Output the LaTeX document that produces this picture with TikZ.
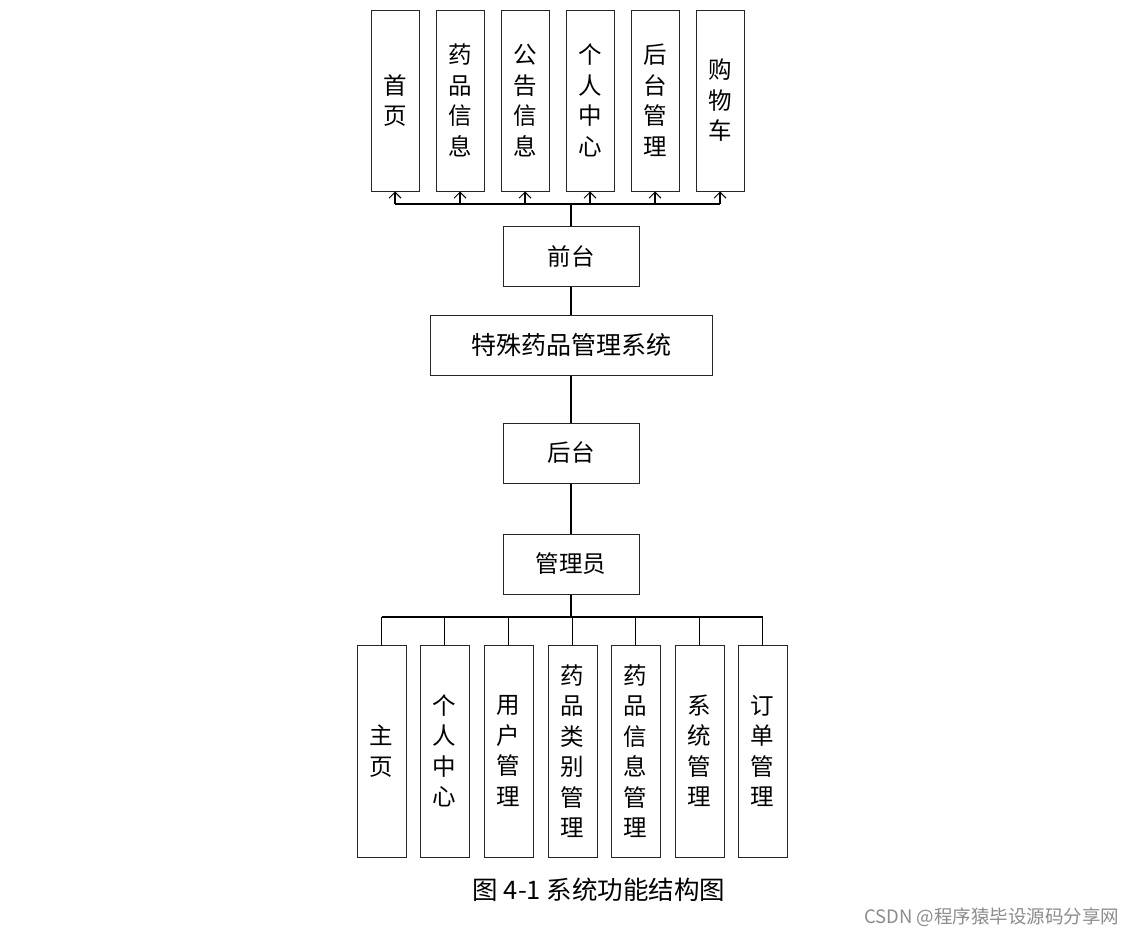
\documentclass[tikz,border=0pt]{standalone}
\usepackage{fontspec}
\setmainfont{Noto Sans CJK SC}
\usetikzlibrary{arrows.meta}
\tikzset{
  box/.style={draw=black!85, line width=1pt, inner sep=0pt, align=center,
    font=\fontsize{23.5}{30.5}\selectfont},
  tall/.style={box, minimum width=48pt, minimum height=181pt},
  low/.style={box, minimum width=49pt, minimum height=212pt},
  mid/.style={box, minimum width=136pt, minimum height=60pt},
  link/.style={line width=1.2pt, black},
  up/.style={link, -{Straight Barb[length=6pt,width=12pt,line width=1pt]}},
}
\begin{document}
\begin{tikzpicture}[x=1pt,y=-1pt]
\useasboundingbox[fill=white] (0,0) rectangle (1136,937);
% top boxes
\node[tall] (t1) at (395,100.5) {首\\页};
\node[tall] (t2) at (460,100.5) {药\\品\\信\\息};
\node[tall] (t3) at (525,100.5) {公\\告\\信\\息};
\node[tall] (t4) at (590,100.5) {个\\人\\中\\心};
\node[tall] (t5) at (655,100.5) {后\\台\\管\\理};
\node[tall] (t6) at (720,100.5) {购\\物\\车};
% middle column
\node[mid] (qt) at (571,256) {前台};
\node[box, minimum width=282pt, minimum height=60pt, font=\fontsize{25}{30}\selectfont] (sys) at (571,345) {特殊药品管理系统};
\node[mid] (ht) at (571,453) {后台};
\node[mid] (gly) at (571,564) {管理员};
% bottom boxes
\node[low] (b1) at (381.5,751) {主\\页};
\node[low] (b2) at (444.5,751) {个\\人\\中\\心};
\node[low] (b3) at (508.5,751) {用\\户\\管\\理};
\node[low] (b4) at (572.5,751) {药\\品\\类\\别\\管\\理};
\node[low] (b5) at (635.5,751) {药\\品\\信\\息\\管\\理};
\node[low] (b6) at (699.5,751) {系\\统\\管\\理};
\node[low] (b7) at (762.5,751) {订\\单\\管\\理};
% top connectors
\coordinate (tb) at (571,204);
\draw[link] (qt.north) -- (tb);
\draw[link] (t1.south |- tb) -- (t6.south |- tb);
\foreach \i in {1,...,6} \draw[up] (t\i.south |- tb) -- (t\i.south);
% spine
\draw[link] (qt.south) -- (sys.north);
\draw[link] (sys.south) -- (ht.north);
\draw[link] (ht.south) -- (gly.north);
% bottom connectors
\coordinate (bb) at (571,617);
\draw[link] (gly.south) -- (bb);
\draw[link] (b1.north |- bb) -- (b7.north |- bb);
\foreach \i in {1,...,7} \draw[link] (b\i.north |- bb) -- (b\i.north);
% caption and watermark
\node[font=\fontsize{25.5}{28}\selectfont] (cap) at (599,890) {图 4-1 系统功能结构图};
\node[font=\fontsize{18.5}{20}\selectfont, text=black!45, anchor=east] (wm) at (1123,917) {CSDN @程序猿毕设源码分享网};
\end{tikzpicture}
\end{document}
